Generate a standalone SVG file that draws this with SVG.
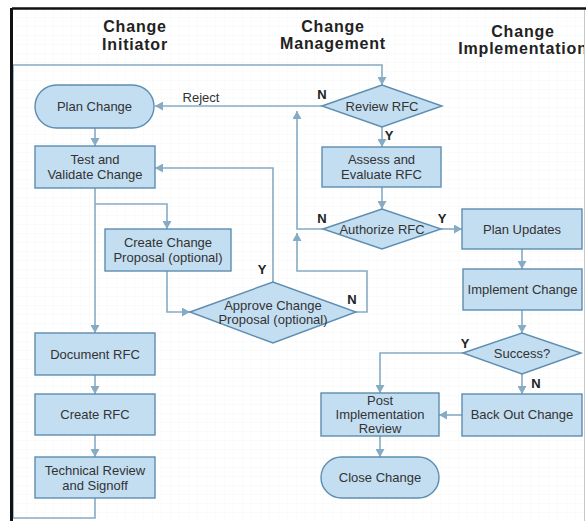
<svg xmlns="http://www.w3.org/2000/svg" width="586" height="521" viewBox="0 0 586 521">
<defs>
<pattern id="grid" width="9" height="9" patternUnits="userSpaceOnUse">
<path d="M9 0V9H0" fill="none" stroke="#eef1f4" stroke-width="0.6"/>
</pattern>
<marker id="ah" markerUnits="userSpaceOnUse" markerWidth="9" markerHeight="9" refX="8" refY="4.5" orient="auto">
<path d="M0 0L8 4.5L0 9z" fill="#86abc4"/>
</marker>
<clipPath id="frame"><rect x="12" y="9" width="572" height="512"/></clipPath>
<style>
.node rect,.node polygon{fill:#c4def1;stroke:#5d8db0;stroke-width:1.4}
.t{font-family:"Liberation Sans",Arial,sans-serif;font-size:13px;fill:#333;text-anchor:middle}
.h{font-family:"Liberation Sans",Arial,sans-serif;font-size:16px;font-weight:bold;fill:#222;text-anchor:middle;letter-spacing:0.8px}
.lbl{font-family:"Liberation Sans",Arial,sans-serif;font-size:13px;font-weight:bold;fill:#222;text-anchor:middle}
.c path{fill:none;stroke:#86abc4;stroke-width:1.6}
.c .a{marker-end:url(#ah)}
</style>
</defs>
<rect x="0" y="0" width="586" height="521" fill="#fff"/>
<rect x="12" y="9" width="572" height="512" fill="url(#grid)"/>

<g id="headers" clip-path="url(#frame)">
<text class="h" x="135" y="32">Change</text>
<text class="h" x="135" y="50">Initiator</text>
<text class="h" x="333" y="32">Change</text>
<text class="h" x="333" y="49">Management</text>
<text class="h" x="523" y="37">Change</text>
<text class="h" x="523" y="54">Implementation</text>
</g>

<g id="connectors" class="c">
<path d="M95 498V518H13V65H382V85" class="a"/>
<path d="M322 106H155" class="a"/>
<path d="M95 128V146" class="a"/>
<path d="M95 188V333" class="a"/>
<path d="M95 204H167V229" class="a"/>
<path d="M167 271V312H190" class="a"/>
<path d="M273 282V168H155" class="a"/>
<path d="M356 312H367V271H297V233" class="a"/>
<path d="M323 229H297V111" class="a"/>
<path d="M382 127V147" class="a"/>
<path d="M382 187V209" class="a"/>
<path d="M441 229H462" class="a"/>
<path d="M522 249V269" class="a"/>
<path d="M522 310V333" class="a"/>
<path d="M463 353H380V393" class="a"/>
<path d="M522 374V394" class="a"/>
<path d="M462 415H439" class="a"/>
<path d="M380 436V457" class="a"/>
<path d="M95 375V394" class="a"/>
<path d="M95 435V457" class="a"/>
</g>

<g id="plan-change" class="node"><rect x="35" y="85" width="119" height="43" rx="21.5"/><text class="t" x="94.5" y="111">Plan Change</text></g>
<g id="test-validate" class="node"><rect x="35" y="146" width="120" height="42"/><text class="t" x="95" y="164">Test and</text><text class="t" x="95" y="179">Validate Change</text></g>
<g id="create-proposal" class="node"><rect x="105" y="229" width="126" height="42"/><text class="t" x="168" y="247">Create Change</text><text class="t" x="168" y="262">Proposal (optional)</text></g>
<g id="approve-proposal" class="node"><polygon points="190,312 273,282 356,312 273,343"/><text class="t" x="273" y="310">Approve Change</text><text class="t" x="273" y="324">Proposal (optional)</text></g>
<g id="document-rfc" class="node"><rect x="35" y="333" width="120" height="42"/><text class="t" x="95" y="359">Document RFC</text></g>
<g id="create-rfc" class="node"><rect x="35" y="394" width="120" height="41"/><text class="t" x="95" y="419">Create RFC</text></g>
<g id="tech-review" class="node"><rect x="35" y="457" width="120" height="41"/><text class="t" x="95" y="475">Technical Review</text><text class="t" x="95" y="490">and Signoff</text></g>

<g id="review-rfc" class="node"><polygon points="322,106 382,85 442,106 382,127"/><text class="t" x="382" y="111">Review RFC</text></g>
<g id="assess-rfc" class="node"><rect x="322" y="147" width="119" height="40"/><text class="t" x="381.5" y="164">Assess and</text><text class="t" x="381.5" y="179">Evaluate RFC</text></g>
<g id="authorize-rfc" class="node"><polygon points="323,229 382,209 441,229 382,249"/><text class="t" x="382" y="234">Authorize RFC</text></g>

<g id="plan-updates" class="node"><rect x="462" y="209" width="120" height="40"/><text class="t" x="522" y="234">Plan Updates</text></g>
<g id="implement-change" class="node"><rect x="463" y="269" width="119" height="41"/><text class="t" x="522.5" y="294">Implement Change</text></g>
<g id="success" class="node"><polygon points="463,353 522,333 581,353 522,374"/><text class="t" x="522" y="358">Success?</text></g>
<g id="back-out" class="node"><rect x="462" y="394" width="120" height="42"/><text class="t" x="522" y="419">Back Out Change</text></g>
<g id="post-impl" class="node"><rect x="321" y="393" width="118" height="43"/><text class="t" x="380" y="405">Post</text><text class="t" x="380" y="419">Implementation</text><text class="t" x="380" y="433">Review</text></g>
<g id="close-change" class="node"><rect x="321" y="457" width="118" height="41" rx="20.5"/><text class="t" x="380" y="482">Close Change</text></g>

<g id="labels">
<text class="t" x="201" y="102">Reject</text>
<text class="lbl" x="322" y="99">N</text>
<text class="lbl" x="389" y="140">Y</text>
<text class="lbl" x="322" y="223">N</text>
<text class="lbl" x="442" y="223">Y</text>
<text class="lbl" x="262" y="274">Y</text>
<text class="lbl" x="352" y="304">N</text>
<text class="lbl" x="465" y="348">Y</text>
<text class="lbl" x="536" y="388">N</text>
</g>

<g id="frame-lines">
<path d="M12 8.5H586" stroke="#111" stroke-width="2.5"/>
<path d="M11.5 8V521" stroke="#111" stroke-width="3"/>
<path d="M584.5 10V521" stroke="#c8c8c8" stroke-width="1"/>
</g>
</svg>
